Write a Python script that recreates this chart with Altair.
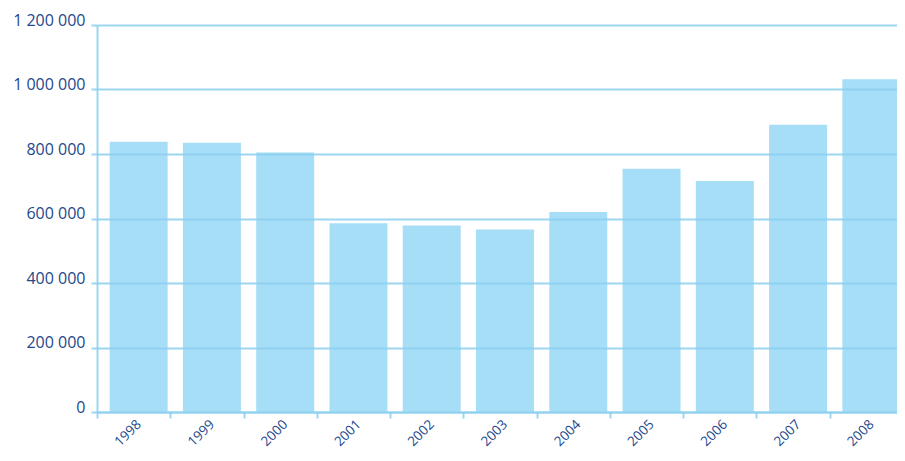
import altair as alt
import pandas as pd

years = ["1998", "1999", "2000", "2001", "2002", "2003", "2004", "2005", "2006", "2007", "2008"]
values = [838000, 835000, 805000, 585000, 578000, 566000, 620000, 754000, 716000, 891000, 1032000]
y_ticks = [0, 200000, 400000, 600000, 800000, 1000000, 1200000]

df = pd.DataFrame({"year": years, "value": values})

label_color = "#24488c"
line_color = "#8ccfee"

chart = alt.Chart(df).mark_bar(color="#a6def8", width=58, xOffset=5).encode(
    x=alt.X("year:N", sort=years, title=None,
            scale=alt.Scale(paddingInner=0, paddingOuter=0, range=[0, 806]),
            axis=alt.Axis(labelAngle=-45, tickBand="extent", labelColor=label_color,
                          labelFont="Open Sans", labelFontSize=13.5, labelPadding=-1,
                          domainColor=line_color, domainWidth=2, domainOpacity=0.85,
                          tickColor=line_color, tickSize=6, tickWidth=2, tickOpacity=0.85,
                          grid=False)),
    y=alt.Y("value:Q", title=None,
            scale=alt.Scale(domain=[0, 1200000], nice=False),
            axis=alt.Axis(values=y_ticks,
                          labelExpr="replace(format(datum.value, ','), regexp(',', 'g'), ' ')",
                          labelColor=label_color, labelFont="Open Sans", labelFontSize=16,
                          labelBaseline="alphabetic", labelPadding=6,
                          domainColor=line_color, domainWidth=2, domainOpacity=0.85,
                          tickColor=line_color, tickSize=6, tickWidth=2, tickOpacity=0.85,
                          grid=True, gridColor=line_color, gridWidth=2, gridOpacity=0.85,
                          zindex=1)),
).properties(
    width=800,
    height=387,
    autosize=alt.AutoSizeParams(type="none"),
    padding={"left": 89, "top": 17, "right": 0, "bottom": 37},
).configure_view(stroke=None)

chart.save("out.html", embed_options={"renderer": "svg", "actions": False})
